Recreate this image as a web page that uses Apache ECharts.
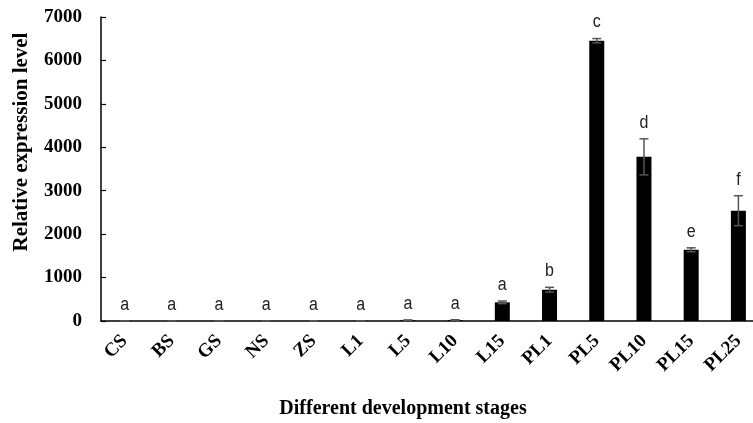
<!DOCTYPE html>
<html>
<head>
<meta charset="utf-8">
<script src="https://cdn.jsdelivr.net/npm/echarts@6/dist/echarts.min.js"></script>
<style>html,body{margin:0;padding:0;background:#fff}#c{width:753px;height:423px}</style>
</head>
<body>
<div id="c"></div>
<script>
var categories = ['CS','BS','GS','NS','ZS','L1','L5','L10','L15','PL1','PL5','PL10','PL15','PL25'];
var means = [3, 2, 2, 2, 3, 3, 18, 22, 430, 720, 6454, 3780, 1640, 2540];
var errors = [2, 2, 2, 2, 2, 2, 5, 6, 30, 55, 50, 415, 45, 345];
var letters = ['a','a','a','a','a','a','a','a','a','b','c','d','e','f'];
var yTicks = { min: 0, max: 7000, interval: 1000 };

var chart = echarts.init(document.getElementById('c'), null, { renderer: 'canvas' });
var serif = "'Liberation Serif','Times New Roman',serif";
var errData = means.map(function (m, i) { return [i, m, errors[i]]; });

chart.setOption({
  animation: false,
  backgroundColor: '#fff',
  grid: { left: 101, right: -9, top: 17, bottom: 102, containLabel: false, outerBoundsMode: 'none' },
  xAxis: {
    type: 'category',
    data: categories,
    boundaryGap: true,
    axisLine: { lineStyle: { color: '#000', width: 1.5 } },
    axisTick: { inside: true, length: 5, lineStyle: { color: '#000', width: 1.2 } },
    axisLabel: { rotate: 45, margin: 17, color: '#000', fontFamily: serif, fontWeight: 'bold', fontSize: 19, interval: 0 }
  },
  yAxis: {
    type: 'value',
    min: yTicks.min, max: yTicks.max, interval: yTicks.interval,
    splitLine: { show: false },
    axisLine: { show: true, lineStyle: { color: '#000', width: 1.5 } },
    axisTick: { show: true, inside: true, length: 5, lineStyle: { color: '#000', width: 1.2 } },
    axisLabel: { margin: 19, color: '#000', fontFamily: serif, fontWeight: 'bold', fontSize: 19,
                 formatter: function (v) { return String(v); } }
  },
  series: [
    {
      type: 'bar',
      data: means,
      barWidth: 15,
      itemStyle: { color: '#000' }
    },
    {
      type: 'custom',
      data: errData,
      z: 10,
      renderItem: function (params, api) {
        var x = api.coord([api.value(0), 0])[0];
        var m = api.value(1), e = api.value(2);
        var top = api.coord([api.value(0), m + e])[1];
        var bot = api.coord([api.value(0), Math.max(m - e, 0)])[1];
        var cap = 4.5;
        var st = { stroke: '#555', lineWidth: 1.5 };
        return {
          type: 'group',
          children: [
            { type: 'line', shape: { x1: x, y1: top, x2: x, y2: bot }, style: st },
            { type: 'line', shape: { x1: x - cap, y1: top, x2: x + cap, y2: top }, style: st },
            { type: 'line', shape: { x1: x - cap, y1: bot, x2: x + cap, y2: bot }, style: st },
            { type: 'text', x: x, y: top - 7, scaleY: 1.15,
              style: { text: letters[params.dataIndex], fill: '#222', fontSize: 16,
                       fontFamily: "'Liberation Sans',Arial,sans-serif", align: 'center', verticalAlign: 'bottom' } }
          ]
        };
      }
    }
  ],
  graphic: [
    { type: 'text', x: 22, y: 142, rotation: Math.PI / 2,
      style: { text: 'Relative expression level', fill: '#000', fontFamily: serif, fontWeight: 'bold', fontSize: 21,
               align: 'center', verticalAlign: 'middle' } },
    { type: 'text', x: 403, y: 409,
      style: { text: 'Different development stages', fill: '#000', fontFamily: serif, fontWeight: 'bold', fontSize: 20,
               align: 'center', verticalAlign: 'middle' } }
  ]
});
</script>
</body>
</html>
